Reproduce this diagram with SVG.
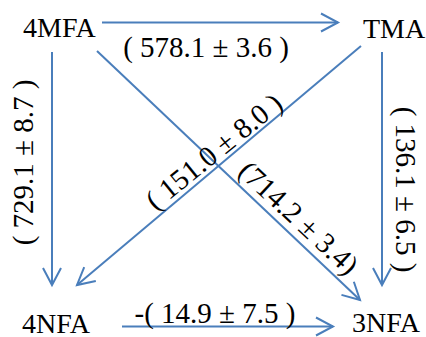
<svg xmlns="http://www.w3.org/2000/svg" width="426" height="337" viewBox="0 0 426 337">
<style>
text{font-family:'Liberation Serif',serif;fill:#000}
.nm{font-size:28px}
.lbl{font-size:29px;text-anchor:middle}
.edge{stroke:#4a7ebb;stroke-width:2;fill:none}
</style>
<defs>
<marker id="arr" markerUnits="userSpaceOnUse" markerWidth="24" markerHeight="24" viewBox="-20 -12 24 24" refX="0" refY="0" orient="auto">
<path d="M-17,-9 L0,0 L-17,9" fill="none" stroke="#4a7ebb" stroke-width="2"/>
</marker>
</defs>
<rect width="426" height="337" fill="#fff"/>
<g id="connectors">
<path class="edge" d="M102,22.5 L338,22.5" marker-end="url(#arr)"/>
<path class="edge" d="M52,52 L52,285" marker-end="url(#arr)"/>
<path class="edge" d="M382,52 L382,285" marker-end="url(#arr)"/>
<path class="edge" d="M122,326.5 L333,326.5" marker-end="url(#arr)"/>
<path class="edge" d="M361,46 L77,285" marker-end="url(#arr)"/>
<path class="edge" d="M97,51 L360,300" marker-end="url(#arr)"/>
<text class="lbl" x="206" y="57">( 578.1 ± 3.6 )</text>
<text class="lbl" x="33" y="162.5" transform="rotate(-90 33 162.5)">( 729.1 ± 8.7 )</text>
<text class="lbl" x="396" y="189.5" transform="rotate(90 396 189.5)">( 136.1 ± 6.5 )</text>
<text class="lbl" x="215" y="323">-( 14.9 ± 7.5 )</text>
<text class="lbl" x="220" y="159" transform="rotate(-39 220 159)">( 151.0 ± 8.0 )</text>
<text class="lbl" x="292" y="225" transform="rotate(43 292 225)">(714.2 ± 3.4)</text>
</g>
<g id="n4MFA"><text class="nm" x="23" y="37">4MFA</text></g>
<g id="nTMA"><text class="nm" x="363" y="38">TMA</text></g>
<g id="n4NFA"><text class="nm" x="22" y="333">4NFA</text></g>
<g id="n3NFA"><text class="nm" x="352" y="332">3NFA</text></g>
</svg>
